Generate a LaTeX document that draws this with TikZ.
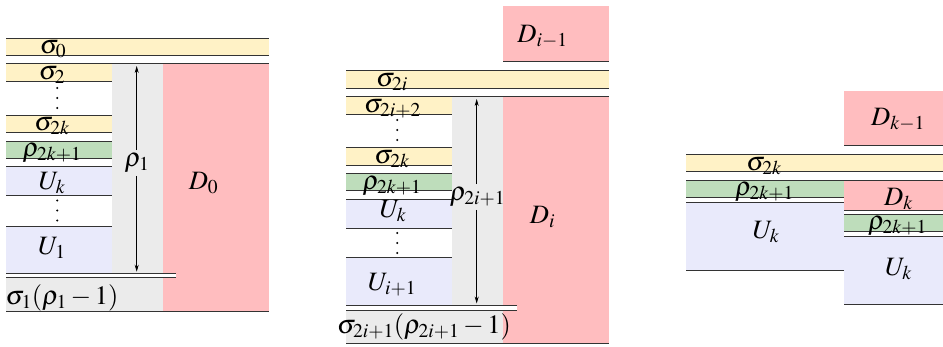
\documentclass[tikz,border=0pt]{standalone}
\usepackage{mathptmx}
\usetikzlibrary{arrows.meta}
\definecolor{cyel}{HTML}{FFF2C6}
\definecolor{cgrn}{HTML}{BEDDBB}
\definecolor{cblu}{HTML}{E9EAFB}
\definecolor{cred}{HTML}{FFBDBF}
\definecolor{cgry}{HTML}{EBEBEB}
\begin{document}
\begin{tikzpicture}[x=1pt,y=-1pt,
  lbl/.style={anchor=base,inner sep=0pt,font=\fontsize{26.5}{30}\selectfont},
  alb/.style={inner sep=0pt,font=\fontsize{26.5}{30}\selectfont},
  hl/.style={draw=black!80,line width=0.9pt},
  arrhead/.style={-{Stealth[length=7pt,width=4pt]},line width=0.7pt},
  vdot/.style={fill=black}]
\useasboundingbox (0,0) rectangle (943,346);
% ================= Panel 1 =================
\fill[cyel] (6,38.3) rectangle (269,55.7);
\fill[cyel] (6,63.7) rectangle (112,81);
\fill[cyel] (6,115) rectangle (112,132.7);
\fill[cgrn] (6,141) rectangle (112,158);
\fill[cblu] (6,166) rectangle (112,195.7);
\fill[cblu] (6,226) rectangle (112,273.3);
\fill[cgry] (112,63.7) rectangle (163,311);
\fill[cgry] (6,277.3) rectangle (163,311);
\fill[cred] (163,63.7) rectangle (269,311);
\fill[white] (6,273.3) rectangle (176,277.3);
\draw[hl] (6,38.3) -- (269,38.3);
\draw[hl] (6,55.7) -- (269,55.7);
\draw[hl] (6,63.7) -- (269,63.7);
\draw[hl] (6,81) -- (112,81);
\draw[hl] (6,115) -- (112,115);
\draw[hl] (6,132.7) -- (112,132.7);
\draw[hl] (6,141) -- (112,141);
\draw[hl] (6,158) -- (112,158);
\draw[hl] (6,166) -- (112,166);
\draw[hl] (6,195.7) -- (112,195.7);
\draw[hl] (6,226) -- (112,226);
\draw[hl] (6,273.3) -- (176,273.3);
\draw[hl] (6,277.3) -- (176,277.3);
\draw[hl] (6,311) -- (269,311);
\foreach \y in {88,98,108,200.5,210.5,220.5} \fill[vdot] (57.3,\y) circle (1.1);
\coordinate (a1t) at (136.7,66);
\coordinate (a1b) at (136.7,271.7);
\node[alb] (r1) at (137,163) {$\rho_1$};
\draw[arrhead] (a1t |- r1.north) ++(0,-3) -- (a1t);
\draw[arrhead] (a1b |- r1.south) ++(0,3) -- (a1b);
\node[lbl] (s0) at (53,53) {$\sigma_0$};
\node[lbl] (s2) at (52,79.5) {$\sigma_2$};
\node[lbl] (s2k) at (52,130.5) {$\sigma_{2k}$};
\node[lbl] (r2k) at (52,156) {$\rho_{2k+1}$};
\node[lbl] (uk) at (52,189) {$U_k$};
\node[lbl] (u1) at (52,254.3) {$U_1$};
\node[lbl] (d0) at (203.5,189.3) {$D_0$};
\node[lbl] (s1) at (62,304) {$\sigma_1(\rho_1-1)$};
% ================= Panel 2 =================
\fill[cred] (503,6) rectangle (609,61);
\fill[cyel] (346,70.7) rectangle (609,88.3);
\fill[cyel] (346,96.7) rectangle (452,114);
\fill[cyel] (346,147.7) rectangle (452,165);
\fill[cgrn] (346,173) rectangle (452,190.7);
\fill[cblu] (346,199) rectangle (452,228);
\fill[cblu] (346,257.7) rectangle (452,305.7);
\fill[cgry] (452,96.7) rectangle (503,343);
\fill[cgry] (346,310) rectangle (503,343);
\fill[cred] (503,96.7) rectangle (609,343);
\fill[white] (346,305.7) rectangle (516.7,310);
\draw[hl] (503,61) -- (609,61);
\draw[hl] (346,70.7) -- (609,70.7);
\draw[hl] (346,88.3) -- (609,88.3);
\draw[hl] (346,96.7) -- (609,96.7);
\draw[hl] (346,114) -- (452,114);
\draw[hl] (346,147.7) -- (452,147.7);
\draw[hl] (346,165) -- (452,165);
\draw[hl] (346,173) -- (452,173);
\draw[hl] (346,190.7) -- (452,190.7);
\draw[hl] (346,199) -- (452,199);
\draw[hl] (346,228) -- (452,228);
\draw[hl] (346,257.7) -- (452,257.7);
\draw[hl] (346,305.7) -- (516.7,305.7);
\draw[hl] (346,310) -- (516.7,310);
\draw[hl] (346,343) -- (609,343);
\foreach \y in {120,130,140,233,243,253} \fill[vdot] (397.3,\y) circle (1.1);
\coordinate (a2t) at (476.7,99);
\coordinate (a2b) at (476.7,303.5);
\node[alb] (r2i) at (477.5,197) {$\rho_{2i+1}$};
\draw[arrhead] (a2t |- r2i.north) ++(0,-3) -- (a2t);
\draw[arrhead] (a2b |- r2i.south) ++(0,3) -- (a2b);
\node[lbl] (dim1) at (542.5,42.7) {$D_{i-1}$};
\node[lbl] (s2i) at (392,86.5) {$\sigma_{2i}$};
\node[lbl] (s2i2) at (392.5,112.5) {$\sigma_{2i+2}$};
\node[lbl] (s2kb) at (392,163.5) {$\sigma_{2k}$};
\node[lbl] (r2kb) at (392,189) {$\rho_{2k+1}$};
\node[lbl] (ukb) at (393,217.5) {$U_k$};
\node[lbl] (ui1) at (392,290) {$U_{i+1}$};
\node[lbl] (di) at (542.5,223.3) {$D_i$};
\node[lbl] (s2i1) at (424,333) {$\sigma_{2i+1}(\rho_{2i+1}-1)$};
% ================= Panel 3 =================
\fill[cred] (844,91) rectangle (943,145.7);
\fill[cyel] (686,154.3) rectangle (943,171.7);
\fill[cgrn] (686,180) rectangle (844,197.3);
\fill[cred] (844,180) rectangle (943,210);
\fill[cblu] (686,202.3) rectangle (844,270.7);
\fill[cgrn] (844,214.3) rectangle (943,231.7);
\fill[cblu] (844,236) rectangle (943,304);
\draw[hl] (844,145.7) -- (943,145.7);
\draw[hl] (686,154.3) -- (943,154.3);
\draw[hl] (686,171.7) -- (943,171.7);
\draw[hl] (686,180) -- (943,180);
\draw[hl] (686,197.3) -- (844,197.3);
\draw[hl] (686,202.3) -- (844,202.3);
\draw[hl] (686,270.7) -- (844,270.7);
\draw[hl] (844,210) -- (943,210);
\draw[hl] (844,214.3) -- (943,214.3);
\draw[hl] (844,231.7) -- (943,231.7);
\draw[hl] (844,236) -- (943,236);
\draw[hl] (844,304) -- (943,304);
\node[lbl] (dkm1) at (898,125) {$D_{k-1}$};
\node[lbl] (s2kc) at (764,170) {$\sigma_{2k}$};
\node[lbl] (r2kc) at (764.5,195) {$\rho_{2k+1}$};
\node[lbl] (dk) at (898.5,205) {$D_k$};
\node[lbl] (r2kd) at (897.5,229.3) {$\rho_{2k+1}$};
\node[lbl] (ukc) at (766,238) {$U_k$};
\node[lbl] (ukd) at (898.5,275) {$U_k$};
\end{tikzpicture}
\end{document}
